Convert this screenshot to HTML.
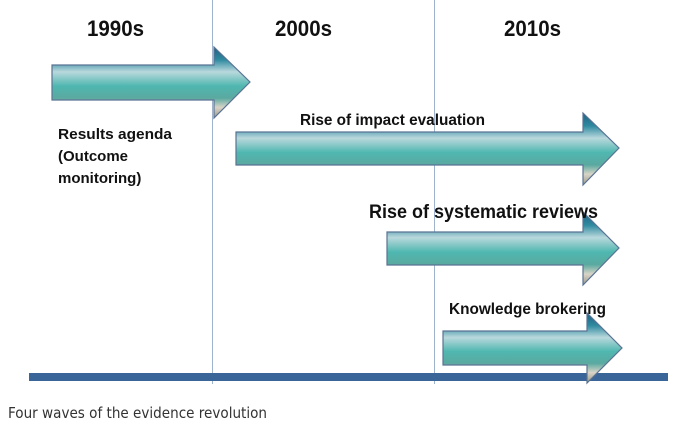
<!DOCTYPE html>
<html><head><meta charset="utf-8"><style>
body{margin:0;background:#fff;width:680px;height:431px;overflow:hidden}
svg{display:block}
.h{font-family:"Liberation Sans",sans-serif;font-weight:bold;fill:#111}
</style></head><body>
<svg width="680" height="431">
<defs>
<linearGradient id="w" x1="0" y1="0" x2="0" y2="1">
<stop offset="0" stop-color="#1f5f82"/><stop offset="0.18" stop-color="#2f8aa0"/>
<stop offset="0.35" stop-color="#b9d8dc"/><stop offset="0.55" stop-color="#4fb7b0"/>
<stop offset="0.72" stop-color="#5aa9a0"/><stop offset="0.85" stop-color="#d8d4c8"/>
<stop offset="1" stop-color="#9a9888"/></linearGradient>
</defs>
<g stroke="#9fb4cc" stroke-width="1">
<line x1="212.5" y1="0" x2="212.5" y2="384"/><line x1="434.5" y1="0" x2="434.5" y2="384"/></g>
<rect x="29" y="373" width="639" height="8" fill="#3a6598"/>
<text class="h" x="87" y="36" font-size="22" textLength="57" lengthAdjust="spacingAndGlyphs">1990s</text>
<text class="h" x="275" y="36" font-size="22" textLength="57" lengthAdjust="spacingAndGlyphs">2000s</text>
<text class="h" x="504" y="36" font-size="22" textLength="57" lengthAdjust="spacingAndGlyphs">2010s</text>
<g stroke="#5a7393" stroke-width="1.2" fill="url(#w)">
<path d="M52 65H214V47L250 82L214 118V100H52Z"/>
<path d="M236 132H583V113L619 148L583 185V165H236Z"/>
<path d="M387 232H583V212L619 248L583 285V265H387Z"/>
<path d="M443 331H587V313L622 348L587 383V365H443Z"/>
</g>
<g class="h" font-size="15">
<text x="58" y="139" textLength="114" lengthAdjust="spacingAndGlyphs">Results agenda</text><text x="58" y="161">(Outcome</text><text x="58" y="183">monitoring)</text></g>
<text class="h" x="300" y="125" font-size="16" textLength="185" lengthAdjust="spacingAndGlyphs">Rise of impact evaluation</text>
<text class="h" x="369" y="218" font-size="19" textLength="229" lengthAdjust="spacingAndGlyphs">Rise of systematic reviews</text>
<text class="h" x="449" y="314" font-size="16" textLength="157" lengthAdjust="spacingAndGlyphs">Knowledge brokering</text>
<text x="8" y="418" font-size="15" fill="#333" textLength="259" lengthAdjust="spacingAndGlyphs" font-family="'DejaVu Sans','Liberation Sans',sans-serif">Four waves of the evidence revolution</text>
</svg>
</body></html>
